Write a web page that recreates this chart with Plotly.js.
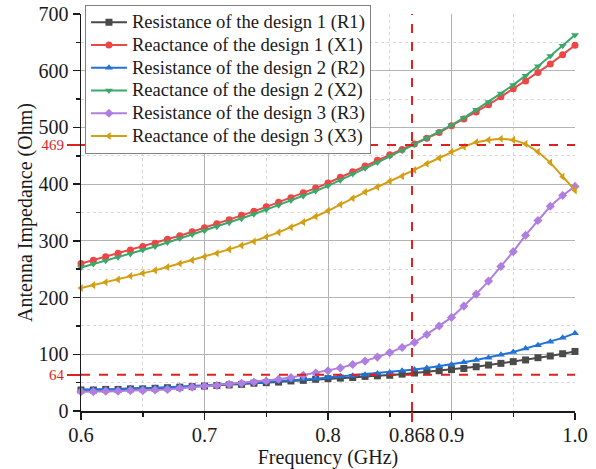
<!DOCTYPE html>
<html>
<head>
<meta charset="utf-8">
<script src="https://cdn.plot.ly/plotly-3.0.1.min.js"></script>
<style>html,body{margin:0;padding:0;background:#fff;}#chart{width:596px;height:469px;}</style>
</head>
<body>
<div id="chart"></div>
<script>
// Frequency (GHz)
const freq = [0.60,0.61,0.62,0.63,0.64,0.65,0.66,0.67,0.68,0.69,0.70,0.71,0.72,0.73,0.74,0.75,0.76,0.77,0.78,0.79,0.80,
              0.81,0.82,0.83,0.84,0.85,0.86,0.87,0.88,0.89,0.90,0.91,0.92,0.93,0.94,0.95,0.96,0.97,0.98,0.99,1.00];
const R1 = [37,37,38,38,39,39,40,41,42,43,44,45,46,47,49,50,51,53,54,56,57,58,59,61,62,63,65,67,69,71,73,75,78,81,84,87,90,94,97,101,105];
const X1 = [260,266,272,278,284,290,296,303,309,316,323,330,337,345,352,360,368,376,385,393,402,412,422,432,442,452,461,471,481,491,503,515,527,540,554,568,582,597,612,628,645];
const R2 = [38,38,39,39,40,40,41,42,43,44,45,46,47,48,50,51,53,54,56,57,59,61,62,64,66,68,71,73,76,79,82,86,90,94,99,104,110,116,122,129,137];
const X2 = [253,259,265,271,277,284,290,297,304,311,318,325,332,339,347,355,363,371,379,388,397,407,418,428,438,449,459,470,481,492,504,517,531,545,560,575,591,608,626,644,663];
const R3 = [34,34,35,35,36,36,37,38,40,42,44,45,47,49,51,53,56,59,63,67,71,76,82,88,95,103,112,121,135,150,165,185,206,229,255,281,310,336,361,380,396];
const X3 = [217,222,227,232,238,243,248,254,260,266,272,278,285,292,299,307,315,324,333,343,353,364,375,386,395,405,414,425,436,446,457,466,474,478,480,478,471,457,438,413,389];

const seriesNames = ["Resistance of the design 1 (R1)","Reactance of the design 1 (X1)","Resistance of the design 2 (R2)",
                     "Reactance of the design 2 (X2)","Resistance of the design 3 (R3)","Reactance of the design 3 (X3)"];
const seriesData = [R1, X1, R2, X2, R3, X3];
const colors = ["#4a4a4a","#ec4646","#2272d9","#3aa86a","#b07ee0","#d49e12"];
const symbols = ["square","circle","triangle-up","triangle-down","diamond","triangle-left"];

// reference markers
const refFreq = [0.868];
const refFreqText = ["0.868"];
const refImp = [64, 469];
const xTicks = [0.6, 0.7, 0.8, 0.9, 1.0];
const xTickText = ["0.6","0.7","0.8","0.9","1.0"];
const xMinor = [0.65, 0.75, 0.85, 0.95];

const font = "Liberation Serif, Times New Roman, serif";
const traces = seriesData.map((d, i) => ({
  x: freq, y: d, type: "scatter", mode: "lines+markers",
  name: '<span style="font-size:18.6px">' + seriesNames[i] + '</span>',
  line: {color: colors[i], width: 2},
  marker: {symbol: symbols[i], size: 7, color: colors[i]},
  cliponaxis: false
}));
// invisible trace carrying the overlay axes
traces.push({x: [0.6, 1.0], y: [0, 700], xaxis: "x2", yaxis: "y2", mode: "markers",
  marker: {opacity: 0}, showlegend: false, hoverinfo: "skip"});

const red = "#e01f1f";
const shapes = [];
refFreq.forEach(f => shapes.push({type: "line", xref: "x", yref: "y", x0: f, x1: f, y0: 0, y1: 700,
  line: {color: red, width: 2, dash: "dash"}}));
refImp.forEach(v => shapes.push({type: "line", xref: "x", yref: "y", x0: 0.6, x1: 1.0, y0: v, y1: v,
  line: {color: red, width: 2, dash: "dash"}}));

const layout = {
  width: 596, height: 469,
  margin: {l: 81, r: 21, t: 14, b: 58, autoexpand: false},
  paper_bgcolor: "#fff", plot_bgcolor: "#fff",
  font: {family: font, size: 20, color: "#1a1a1a"},
  showlegend: true,
  legend: {x: 0.008, y: 1.023, xanchor: "left", yanchor: "top", bgcolor: "#fff",
           bordercolor: "#808080", borderwidth: 1, font: {family: font, size: 15.2, color: "#1a1a1a"},
           tracegroupgap: 0, itemwidth: 36},
  xaxis: {range: [0.6, 1.0], tickmode: "array", tickvals: xTicks, ticktext: xTickText,
          showline: true, linecolor: "#1a1a1a", linewidth: 1.5, ticks: "outside", ticklen: 7, tickwidth: 1.5,
          tickcolor: "#1a1a1a", ticklabelstandoff: -2,
          showgrid: true, gridcolor: "#b4b4b4", gridwidth: 1, zeroline: false,
          tickfont: {family: font, size: 20.5},
          minor: {tickmode: "array", tickvals: xMinor, ticks: "outside", ticklen: 4, tickcolor: "#1a1a1a",
                  showgrid: true, gridcolor: "#d6d6d6", griddash: "dot", gridwidth: 1},
          title: {text: "Frequency (GHz)", font: {family: font, size: 20}, standoff: 0}},
  xaxis2: {range: [0.6, 1.0], overlaying: "x", anchor: "y", side: "bottom", tickmode: "array",
           tickvals: refFreq, ticktext: refFreqText, showgrid: false, showline: false, zeroline: false,
           ticks: "outside", ticklen: 10, tickwidth: 2, tickcolor: red, ticklabelstandoff: -5,
           tickfont: {family: font, size: 20.5, color: "#1a1a1a"}},
  yaxis: {range: [0, 700], dtick: 100, tick0: 0, showline: true, linecolor: "#1a1a1a", linewidth: 1.5,
          ticks: "outside", ticklen: 7, tickwidth: 1.5, tickcolor: "#1a1a1a", ticklabelstandoff: 0,
          showgrid: true, gridcolor: "#b4b4b4", gridwidth: 1, zeroline: false,
          tickfont: {family: font, size: 20},
          minor: {dtick: 50, ticks: "outside", ticklen: 4, tickcolor: "#1a1a1a",
                  showgrid: true, gridcolor: "#d6d6d6", griddash: "dot", gridwidth: 1},
          title: {text: "Antenna Impedance (Ohm)", font: {family: font, size: 20}, standoff: 0}},
  yaxis2: {range: [0, 700], overlaying: "y", anchor: "x", side: "left", tickmode: "array",
           tickvals: refImp, ticktext: refImp.map(String), showgrid: false, showline: false, zeroline: false,
           ticks: "outside", ticklen: 13, tickwidth: 2, tickcolor: red,
           tickfont: {family: font, size: 15, color: red}},
  shapes: shapes
};

Plotly.newPlot("chart", traces, layout, {displayModeBar: false, staticPlot: true});
</script>
</body>
</html>
